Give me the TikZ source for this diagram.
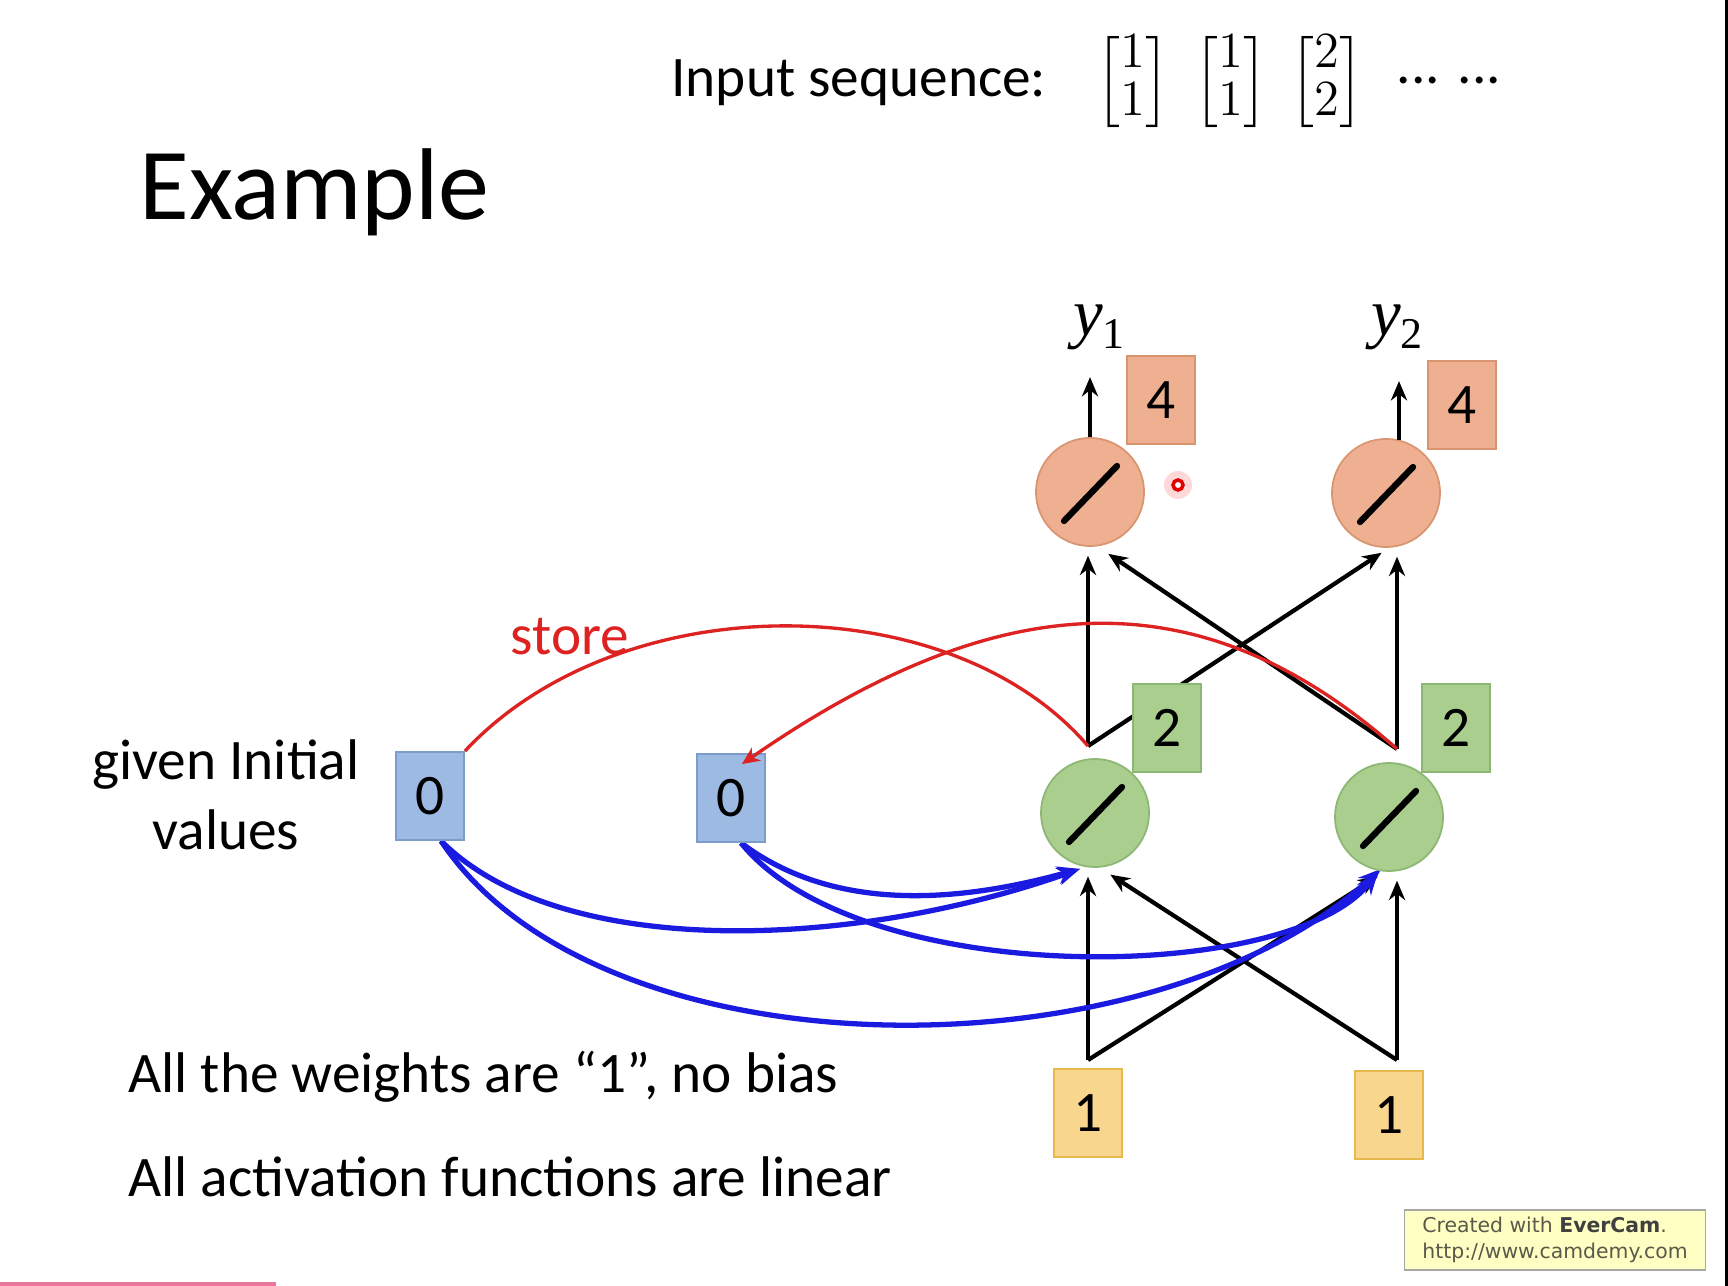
\documentclass[tikz,border=0pt]{standalone}
\usepackage{amsmath}
\usepackage{fontspec}
\setmainfont{Carlito}
\newfontfamily\wmfont{DejaVu Sans}
\newfontfamily\timesfont{Liberation Serif}
\usetikzlibrary{arrows.meta,calc,backgrounds}
\definecolor{OutFill}{HTML}{EFB092}
\definecolor{OutLine}{HTML}{D99470}
\definecolor{HidFill}{HTML}{A9CE8E}
\definecolor{HidLine}{HTML}{8DB774}
\definecolor{InFill}{HTML}{F8D68E}
\definecolor{InLine}{HTML}{E6B94A}
\definecolor{MemFill}{HTML}{9DBAE2}
\definecolor{MemLine}{HTML}{7C9CCB}
\definecolor{StoreRed}{HTML}{DD2222}
\definecolor{RecBlue}{HTML}{1A1AE0}
\definecolor{WmFill}{HTML}{FFFFC4}
\definecolor{WmText}{HTML}{5A5A4A}
\definecolor{PinkBar}{HTML}{E8789A}
\tikzset{>=Stealth,every node/.style={font=\fontsize{16.3}{20}\selectfont},
 neuron/.style={circle,minimum size=1.08cm,inner sep=0pt,line width=.5pt},
 outn/.style={neuron,draw=OutLine,fill=OutFill},hidn/.style={neuron,draw=HidLine,fill=HidFill},
 valbox/.style={rectangle,minimum width=.68cm,minimum height=.88cm,inner sep=0pt,line width=.5pt},
 outbox/.style={valbox,draw=OutLine,fill=OutFill},hidbox/.style={valbox,draw=HidLine,fill=HidFill},
 inbox/.style={valbox,draw=InLine,fill=InFill},membox/.style={valbox,draw=MemLine,fill=MemFill},
 slash/.style={line width=1.8pt,line cap=round},
 warr/.style={line width=1.2pt,-{Stealth[length=5.5pt,width=4.6pt]},shorten >=2.5pt},
 storeline/.style={StoreRed,line width=.95pt},
 recur/.style={RecBlue,line width=1.5pt,-{Stealth[length=6.5pt,width=5pt]}},
 vecnode/.style={inner sep=0pt,font={\fontsize{14.5}{13.5}\selectfont\setlength{\arraycolsep}{1.5pt}}}}

\begin{document}
\begin{tikzpicture}[x=0.01cm,y=-0.01cm]
\useasboundingbox (0,0) rectangle (1728,1286);
% heading and input sequence
\node[anchor=base west,font=\fontsize{29}{34}\selectfont] (title) at (127,220) {Example};
\node[anchor=base west] (inseq) at (659,97) {Input sequence:};
\foreach \x/\a/\b [count=\i] in {1133/1/1,1231/1/1,1327/2/2}
 \node[vecnode] (v\i) at (\x,82) {$\begin{bmatrix}\a\\\b\end{bmatrix}$};
\node[anchor=base] (dots) at (1449,84) {... ...};
% neurons
\node[outn] (o1) at (1090,492) {};\node[outn] (o2) at (1386,493) {};
\node[hidn] (h1) at (1095,813) {};\node[hidn] (h2) at (1389,817) {};
\foreach \n in {o1,o2,h1,h2}\draw[slash] ($(\n)+(-26,29)$)--($(\n)+(27,-26)$);
\node[outbox] (ov1) at (1161,400) {4};\node[outbox] (ov2) at (1462,405) {4};
\node[hidbox] (hv1) at (1167,728) {2};\node[hidbox] (hv2) at (1456,728) {2};
\node[inbox] (x1) at (1088,1113) {1};\node[inbox] (x2) at (1389,1115) {1};
\node[membox] (m1) at (430,796) {0};\node[membox] (m2) at (731,798) {0};
\node (y1) at (1099,327) {\timesfont\fontsize{19}{19}\selectfont\itshape y\/\raisebox{-.45ex}{\upshape\fontsize{12.5}{12.5}\selectfont 1}};
\node (y2) at (1397,327) {\timesfont\fontsize{19}{19}\selectfont\itshape y\/\raisebox{-.45ex}{\upshape\fontsize{12.5}{12.5}\selectfont 2}};
\coordinate (f1) at (1088,1060);\coordinate (f2) at (1397,1060);
\coordinate (g1) at (1088,746);\coordinate (g2) at (1397,749);
\begin{scope}[on background layer]
\draw[warr] (f1)--(f1 |- h1.south);\draw[warr] (f1)--($(h2.south)+(-4,0)$);
\draw[warr] (f2)--(f2 |- h2.south);\draw[warr] (f2)--($(h1.south)+(8,2)$);
\draw[warr] (g1)--(g1 |- o1.south);\draw[warr] (g1)--($(o2.south)+(3,0)$);
\draw[warr] (g2)--(g2 |- o2.south);\draw[warr] (g2)--($(o1.south)+(11,2)$);
% copy back from memory
\draw[recur] ($(m1.south)+(11,0)$) .. controls (560,960) and (850,950) .. ($(h1.south)+(-15,1)$);
\draw[recur] ($(m1.south)+(11,0)$) .. controls (600,1080) and (1150,1080) .. ($(h2.south)+(-8,-3)$);
\draw[recur] ($(m2.south)+(10,0)$) .. controls (830,910) and (950,905) .. ($(h1.south)+(-15,1)$);
\draw[recur] ($(m2.south)+(10,0)$) .. controls (860,990) and (1290,985) .. ($(h2.south)+(-11,0)$);
\end{scope}
\draw[warr,shorten >=0pt] (o1.north)--++(0,-60);
\draw[warr,shorten >=0pt] ($(o2.north)+(13,2)$)--++(0,-59);
% store
\draw[storeline] (g1) .. controls (950,585) and (620,585) .. (m1.north east);
\draw[storeline,-{Stealth[length=5pt,width=4.5pt]}] (g2) .. controls (1200,575) and (1000,585) .. ($(m2.north east)+(-24,11)$);
\node[StoreRed] (store) at (570,637) {store};
% notes
\node[align=center] (init) at (226,795) {given Initial\\values};
\node[anchor=west] (wts) at (116,1077) {All the weights are “1”, no bias};
\node[anchor=west] (act) at (116,1177) {All activation functions are linear};
% recording leftovers
\node[draw=black!35,fill=WmFill,minimum width=3.01cm,minimum height=.6cm,inner sep=1pt,align=left,
 font=\wmfont\fontsize{5.8}{7.2}\selectfont,text=WmText] (wm) at (1555,1240)
 {Created with \textbf{\color{black!75}EverCam}.\\http://www.camdemy.com};
\fill[red!30,opacity=.5] (1178,485) circle (14);
\draw[red!90!black,line width=1pt,fill=white] (1178,485) circle (5);
\fill[PinkBar] (0,1282) rectangle (276,1286);
\fill[black] (1725,0) rectangle (1728,1286);
\end{tikzpicture}
\end{document}
